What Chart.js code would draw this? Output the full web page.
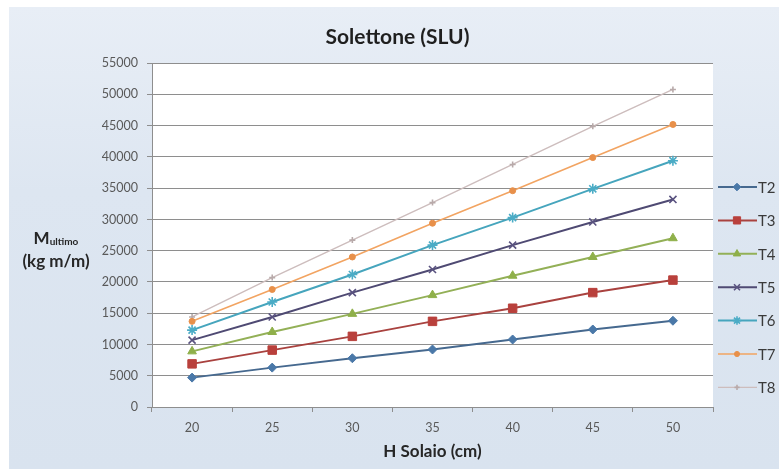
<!DOCTYPE html>
<html>
<head>
<meta charset="utf-8">
<script src="https://cdn.jsdelivr.net/npm/chart.js@4"></script>
<style>
  html, body { margin: 0; padding: 0; background: #ffffff; }
  #wrap { position: relative; width: 779px; height: 469px; overflow: hidden; background: #ffffff; }
  #bg { position: absolute; left: 9px; top: 7px; right: 0; bottom: 0;
        background: linear-gradient(180deg, #e8eef6 0%, #dde6f1 40%, #d9e3ef 100%); }
  #c { position: absolute; left: 0; top: 0; }
  #ytitle { position: absolute; left: 10px; top: 228px; width: 92px; text-align: center;
            font-family: Lato, "Open Sans", sans-serif; font-weight: bold; font-size: 17px;
            line-height: 19px; color: #262626; }
  #ytitle sub { font-size: 10px; vertical-align: -1px; }
</style>
</head>
<body>
<div id="wrap">
  <div id="bg"></div>
  <canvas id="c" width="779" height="469"></canvas>
  <div id="ytitle">M<sub>ultimo</sub><br>(kg m/m)</div>
</div>
<script>
// ---- data ----
const categories = ['20', '25', '30', '35', '40', '45', '50'];
const seriesNames = ['T2', 'T3', 'T4', 'T5', 'T6', 'T7', 'T8'];
const T2 = [4700, 6300, 7800, 9200, 10800, 12400, 13800];
const T3 = [6900, 9100, 11300, 13700, 15800, 18300, 20300];
const T4 = [8900, 12000, 14900, 17900, 21000, 24000, 27000];
const T5 = [10700, 14400, 18300, 22000, 25900, 29600, 33200];
const T6 = [12300, 16800, 21200, 25900, 30300, 34900, 39400];
const T7 = [13700, 18800, 24000, 29400, 34600, 39900, 45200];
const T8 = [14400, 20700, 26700, 32700, 38800, 44900, 50800];
const yMin = 0, yMax = 55000, yStep = 5000;

// ---- styles ----
const lineColors   = ['#46698f', '#a9423f', '#93b057', '#4f4a73', '#46a5bd', '#f2a462', '#cdbdbd'];
const markerColors = ['#4a78a8', '#b9403c', '#8fb04a', '#5a5380', '#4bacc6', '#e8904a', '#b8aaaa'];
const markerStyles = ['rectRot', 'rect', 'triangle', 'crossRot', 'star', 'circle', 'cross'];
const markerRadius = [4.5, 6, 5, 5, 5, 3, 3];
const lineWidths   = [2, 2, 2, 2, 2, 1.6, 1.4];

const allSeries = [T2, T3, T4, T5, T6, T7, T8];
const datasets = allSeries.map((vals, i) => ({
  label: seriesNames[i],
  data: vals,
  borderColor: lineColors[i],
  borderWidth: lineWidths[i],
  backgroundColor: markerColors[i],
  pointStyle: markerStyles[i],
  pointRadius: markerRadius[i],
  pointBackgroundColor: markerColors[i],
  pointBorderColor: markerColors[i],
  pointBorderWidth: (markerStyles[i] === 'crossRot' || markerStyles[i] === 'star' || markerStyles[i] === 'cross') ? 1.6 : 1,
  tension: 0,
  fill: false
}));

const plotBg = {
  id: 'plotBg',
  beforeDraw(chart) {
    const {ctx, chartArea: a} = chart;
    ctx.save();
    ctx.fillStyle = '#ffffff';
    ctx.fillRect(a.left, a.top, a.right - a.left, a.bottom - a.top);
    ctx.restore();
  }
};

const legendPlugin = {
  id: 'customLegend',
  afterDraw(chart) {
    const ctx = chart.ctx;
    const x0 = 718, x1 = 757, xm = 737, y0 = 187, dy = 33.4;
    ctx.save();
    chart.data.datasets.forEach((ds, i) => {
      const y = y0 + i * dy;
      ctx.strokeStyle = ds.borderColor;
      ctx.lineWidth = ds.borderWidth;
      ctx.beginPath(); ctx.moveTo(x0, y); ctx.lineTo(x1, y); ctx.stroke();
      ctx.fillStyle = ds.pointBackgroundColor;
      ctx.strokeStyle = ds.pointBorderColor;
      ctx.lineWidth = ds.pointBorderWidth;
      if (Chart.helpers && Chart.helpers.drawPoint) {
        Chart.helpers.drawPoint(ctx, {pointStyle: ds.pointStyle, radius: ds.pointRadius * 0.85, rotation: 0, borderWidth: ds.pointBorderWidth}, xm, y);
      }
      ctx.fillStyle = '#3a3a3a';
      ctx.font = '15px Lato, "Open Sans", sans-serif';
      ctx.textAlign = 'left';
      ctx.textBaseline = 'middle';
      ctx.fillText(ds.label, 758, y + 1);
    });
    ctx.restore();
  }
};

const gridGray = '#8e8e8e';
const tickFont = {family: 'Lato, "Open Sans", sans-serif', size: 12.5};

new Chart(document.getElementById('c'), {
  type: 'line',
  data: { labels: categories, datasets: datasets },
  options: {
    responsive: false,
    animation: false,
    devicePixelRatio: 1,
    layout: { padding: { left: 82, right: 66, top: 0, bottom: 0 } },
    plugins: {
      legend: { display: false },
      tooltip: { enabled: false },
      title: {
        display: true,
        text: 'Solettone (SLU)',
        color: '#1f1f1f',
        font: { family: 'Lato, "Open Sans", sans-serif', size: 21, weight: 'bold' },
        padding: { top: 25, bottom: 13 }
      }
    },
    scales: {
      x: {
        type: 'category',
        offset: true,
        grid: { display: true, drawOnChartArea: false, drawTicks: true, tickLength: 5, color: gridGray, offset: true },
        border: { display: true, color: gridGray, width: 1 },
        ticks: { color: '#595959', font: tickFont, padding: 8, maxRotation: 0 },
        title: {
          display: true, text: 'H Solaio (cm)', color: '#262626',
          font: { family: 'Lato, "Open Sans", sans-serif', size: 17, weight: 'bold' },
          padding: { top: 4, bottom: 7 }
        },
        afterFit(scale) { scale.height = 62; }
      },
      y: {
        min: yMin, max: yMax,
        ticks: {
          stepSize: yStep, color: '#595959', font: tickFont, padding: 9,
          callback: (v) => String(v)
        },
        grid: { color: gridGray, lineWidth: 1, tickLength: 5, drawTicks: true },
        border: { display: true, color: gridGray, width: 1 },
        afterFit(scale) { scale.width = 70; }
      }
    }
  },
  plugins: [plotBg, legendPlugin]
});
</script>
</body>
</html>
